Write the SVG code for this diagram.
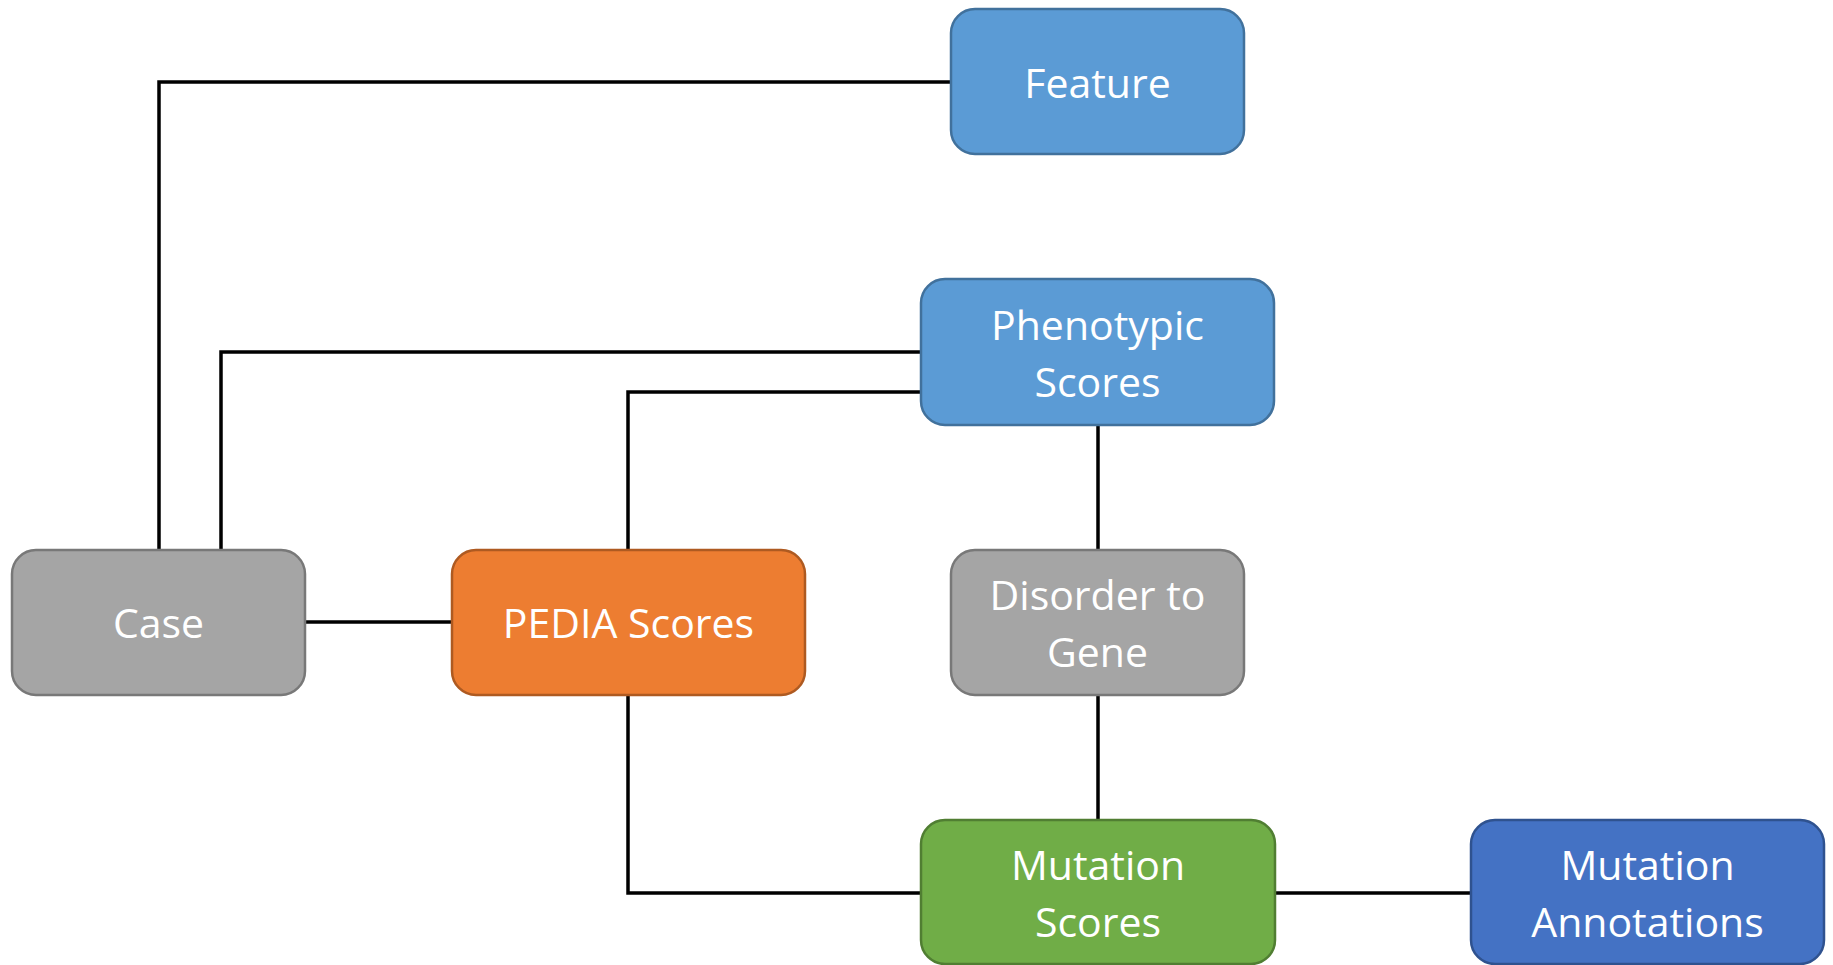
<svg xmlns="http://www.w3.org/2000/svg" width="1833" height="965" viewBox="0 0 1833 965">
<style>
.box{stroke-width:2.5}
.blue{fill:#5B9BD5;stroke:#41719C}
.gray{fill:#A5A5A5;stroke:#787878}
.orange{fill:#ED7D31;stroke:#AE5A21}
.green{fill:#70AD47;stroke:#507E32}
.dblue{fill:#4472C4;stroke:#2F528F}
text{font-family:"Open Sans","Liberation Sans",sans-serif;font-size:41px;fill:#FFFFFF;text-anchor:middle}
.conn path{fill:none;stroke:#000;stroke-width:3.5}
</style>
<rect width="1833" height="965" fill="#FFFFFF"/>
<g class="conn" id="connectors">
<path d="M951,82 H159 V550"/>
<path d="M921,352 H221 V550"/>
<path d="M921,392 H628 V550"/>
<path d="M305,622 H452"/>
<path d="M1098,425 V550"/>
<path d="M1098,695 V820"/>
<path d="M628,695 V893 H921"/>
<path d="M1275,893 H1471"/>
</g>
<g id="feature"><rect class="box blue" x="951" y="9" width="293" height="145" rx="24"/><text x="1097.5" y="98">Feature</text></g>
<g id="phenotypic"><rect class="box blue" x="921" y="279" width="353" height="146" rx="24"/><text x="1097.5" y="340">Phenotypic</text><text x="1097.5" y="397">Scores</text></g>
<g id="case"><rect class="box gray" x="12" y="550" width="293" height="145" rx="24"/><text x="158.5" y="638">Case</text></g>
<g id="pedia"><rect class="box orange" x="452" y="550" width="353" height="145" rx="24"/><text x="628.5" y="638">PEDIA Scores</text></g>
<g id="disorder"><rect class="box gray" x="951" y="550" width="293" height="145" rx="24"/><text x="1097.5" y="610">Disorder to</text><text x="1097.5" y="667">Gene</text></g>
<g id="mutation-scores"><rect class="box green" x="921" y="820" width="354" height="144" rx="24"/><text x="1098" y="880">Mutation</text><text x="1098" y="937">Scores</text></g>
<g id="mutation-annotations"><rect class="box dblue" x="1471" y="820" width="353" height="144" rx="24"/><text x="1647.5" y="880">Mutation</text><text x="1647.5" y="937">Annotations</text></g>
</svg>
